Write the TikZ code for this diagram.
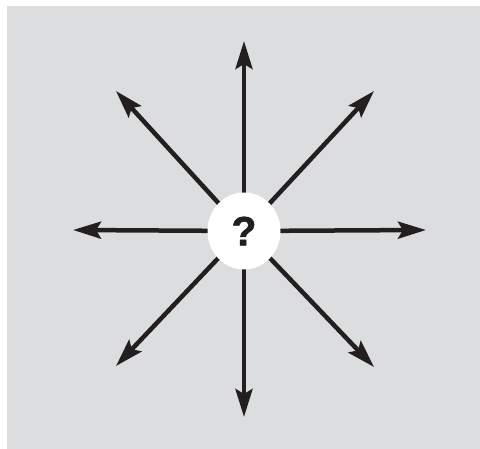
\documentclass[tikz,border=0pt]{standalone}
\usepackage{fontspec}
\newfontfamily\qfont[BoldFeatures={FakeBold=1.2}]{Liberation Sans}
\usetikzlibrary{arrows.meta,shapes.geometric}
\definecolor{bgray}{HTML}{DCDDDF}
\definecolor{ink}{HTML}{231F20}
\begin{document}
\begin{tikzpicture}[x=1pt,y=-1pt,
  arr/.style={draw=ink, line width=4.5pt, -{Stealth[length=28pt,width=17pt,inset=5pt]}},
  hub/.style={ellipse, fill=white, minimum width=73pt, minimum height=77pt, inner sep=0pt, font=\qfont\bfseries\fontsize{41}{41}\selectfont, text=ink}]
\useasboundingbox (0,0) rectangle (480,449);
\fill[bgray] (7,6) rectangle (480,449);
\coordinate (n) at (244,41);
\coordinate (s) at (244,417);
\coordinate (w) at (73,230);
\coordinate (e) at (426,230);
\coordinate (nw) at (116,91);
\coordinate (ne) at (374,91);
\coordinate (sw) at (116,366);
\coordinate (se) at (374,367);
\coordinate (c) at (244,231);
\foreach \t in {n,s,w,e,nw,ne,sw,se} \draw[arr] (c) -- (\t);
\node[hub] (q) at (c) {?};
\end{tikzpicture}
\end{document}
